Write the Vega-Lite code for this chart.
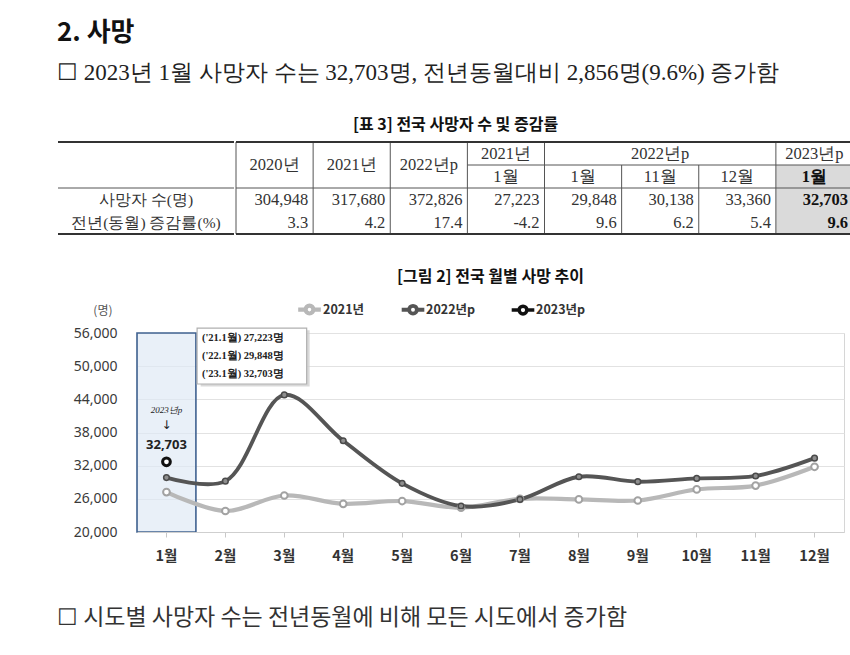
{
  "$schema": "https://vega.github.io/schema/vega-lite/v6.json",
  "padding": {"top": 20, "left": 57, "right": 0, "bottom": 40},
  "background": "white",
  "config": {
    "view": {"stroke": null},
    "font": "Noto Sans CJK KR",
    "concat": {"spacing": 0}
  },
  "title": {
    "text": "2. 사망",
    "subtitle": "☐ 2023년 1월 사망자 수는 32,703명, 전년동월대비 2,856명(9.6%) 증가함",
    "anchor": "start",
    "font": "Noto Sans CJK KR",
    "fontSize": 26,
    "fontWeight": "bold",
    "color": "#111111",
    "subtitleFont": "Liberation Serif",
    "subtitleFontSize": 23,
    "subtitleColor": "#222222",
    "subtitlePadding": 16,
    "offset": 32
  },
  "resolve": {"scale": {"color": "independent", "strokeWidth": "independent"}, "legend": {"color": "independent", "strokeWidth": "independent"}},
  "datasets": {
    "monthly": [
      {"month": "1월", "series": "2021년", "value": 27223},
      {"month": "2월", "series": "2021년", "value": 23800},
      {"month": "3월", "series": "2021년", "value": 26600},
      {"month": "4월", "series": "2021년", "value": 25100},
      {"month": "5월", "series": "2021년", "value": 25600},
      {"month": "6월", "series": "2021년", "value": 24400},
      {"month": "7월", "series": "2021년", "value": 26000},
      {"month": "8월", "series": "2021년", "value": 25900},
      {"month": "9월", "series": "2021년", "value": 25700},
      {"month": "10월", "series": "2021년", "value": 27700},
      {"month": "11월", "series": "2021년", "value": 28400},
      {"month": "12월", "series": "2021년", "value": 31800},
      {"month": "1월", "series": "2022년p", "value": 29848},
      {"month": "2월", "series": "2022년p", "value": 29200},
      {"month": "3월", "series": "2022년p", "value": 44800},
      {"month": "4월", "series": "2022년p", "value": 36500},
      {"month": "5월", "series": "2022년p", "value": 28800},
      {"month": "6월", "series": "2022년p", "value": 24700},
      {"month": "7월", "series": "2022년p", "value": 25900},
      {"month": "8월", "series": "2022년p", "value": 30000},
      {"month": "9월", "series": "2022년p", "value": 29100},
      {"month": "10월", "series": "2022년p", "value": 29700},
      {"month": "11월", "series": "2022년p", "value": 30138},
      {"month": "12월", "series": "2022년p", "value": 33360},
      {"month": "1월", "series": "2023년p", "value": 32703}
    ],
    "cells": [
      {"col": "c2020", "row": "h1", "kind": "span", "text": "2020년"},
      {"col": "c2021", "row": "h1", "kind": "span", "text": "2021년"},
      {"col": "c2022", "row": "h1", "kind": "span", "text": "2022년p"},
      {"col": "c21_1", "row": "h1", "kind": "head", "text": "2021년"},
      {"col": "c22_11", "row": "h1", "kind": "head", "text": "2022년p"},
      {"col": "c23_1", "row": "h1", "kind": "head", "text": "2023년p"},
      {"col": "c21_1", "row": "h2", "kind": "head", "text": "1월"},
      {"col": "c22_1", "row": "h2", "kind": "head", "text": "1월"},
      {"col": "c22_11", "row": "h2", "kind": "head", "text": "11월"},
      {"col": "c22_12", "row": "h2", "kind": "head", "text": "12월"},
      {"col": "c23_1", "row": "h2", "kind": "head", "text": "1월"},
      {"col": "label", "row": "r1", "kind": "label", "text": "사망자 수(명)"},
      {"col": "label", "row": "r2", "kind": "label", "text": "전년(동월) 증감률(%)"},
      {"col": "c2020", "row": "r1", "kind": "num", "text": "304,948"},
      {"col": "c2021", "row": "r1", "kind": "num", "text": "317,680"},
      {"col": "c2022", "row": "r1", "kind": "num", "text": "372,826"},
      {"col": "c21_1", "row": "r1", "kind": "num", "text": "27,223"},
      {"col": "c22_1", "row": "r1", "kind": "num", "text": "29,848"},
      {"col": "c22_11", "row": "r1", "kind": "num", "text": "30,138"},
      {"col": "c22_12", "row": "r1", "kind": "num", "text": "33,360"},
      {"col": "c23_1", "row": "r1", "kind": "num", "text": "32,703"},
      {"col": "c2020", "row": "r2", "kind": "num", "text": "3.3"},
      {"col": "c2021", "row": "r2", "kind": "num", "text": "4.2"},
      {"col": "c2022", "row": "r2", "kind": "num", "text": "17.4"},
      {"col": "c21_1", "row": "r2", "kind": "num", "text": "-4.2"},
      {"col": "c22_1", "row": "r2", "kind": "num", "text": "9.6"},
      {"col": "c22_11", "row": "r2", "kind": "num", "text": "6.2"},
      {"col": "c22_12", "row": "r2", "kind": "num", "text": "5.4"},
      {"col": "c23_1", "row": "r2", "kind": "num", "text": "9.6"}
    ],
    "vlines": [
      {"col": "c2020", "from": "h1", "to": "r2"},
      {"col": "c2021", "from": "h1", "to": "r2"},
      {"col": "c2022", "from": "h1", "to": "r2"},
      {"col": "c21_1", "from": "h1", "to": "r2"},
      {"col": "c22_1", "from": "h1", "to": "r2"},
      {"col": "c22_11", "from": "h2", "to": "r2"},
      {"col": "c22_12", "from": "h2", "to": "r2"},
      {"col": "c23_1", "from": "h1", "to": "r2"}
    ],
    "hlines": [
      {"row": "h1", "edge": "top", "from": "c2020", "to": "c23_1", "part": "full"},
      {"row": "h2", "edge": "top", "from": "c21_1", "to": "c23_1", "part": "partial"},
      {"row": "r1", "edge": "top", "from": "c2020", "to": "c23_1", "part": "full"},
      {"row": "r2", "edge": "bottom", "from": "c2020", "to": "c23_1", "part": "full"}
    ],
    "spacer": []
  },
  "vconcat": [
    {
      "title": {
        "text": "☐ 시도별 사망자 수는 전년동월에 비해 모든 시도에서 증가함",
        "orient": "bottom",
        "anchor": "start",
        "offset": 44,
        "font": "Noto Sans CJK KR",
        "fontSize": 23,
        "fontWeight": "normal",
        "color": "#333333"
      },
      "spacing": 33,
      "resolve": {"scale": {"color": "independent", "strokeWidth": "independent"}, "legend": {"color": "independent", "strokeWidth": "independent"}},
      "vconcat": [
        {
          "title": {
            "text": "[표 3] 전국 사망자 수 및 증감률",
            "anchor": "middle",
            "offset": 8,
            "font": "Noto Sans CJK KR",
            "fontSize": 16,
            "fontWeight": "bold",
            "color": "#111111"
          },
          "spacing": 0,
          "hconcat": [
            {
              "width": 176,
              "height": 92,
              "layer": [
                {
                  "data": {"name": "hlines"},
                  "transform": [{"filter": "datum.row === 'r1'"}],
                  "mark": {"type": "rule", "color": "#555555", "strokeWidth": 1},
                  "encoding": {
                    "y": {"field": "row", "type": "nominal", "bandPosition": 0, "scale": {"domain": ["h1", "h2", "r1", "r2"], "paddingInner": 0, "paddingOuter": 0}, "axis": null}
                  }
                },
                {
                  "data": {"name": "hlines"},
                  "transform": [{"filter": "datum.row === 'h1'"}],
                  "mark": {"type": "rule", "color": "#333333", "strokeWidth": 2},
                  "encoding": {
                    "y": {"field": "row", "type": "nominal", "bandPosition": 0, "scale": {"domain": ["h1", "h2", "r1", "r2"], "paddingInner": 0, "paddingOuter": 0}, "axis": null}
                  }
                },
                {
                  "data": {"name": "hlines"},
                  "transform": [{"filter": "datum.edge === 'bottom'"}],
                  "mark": {"type": "rule", "color": "#333333", "strokeWidth": 2},
                  "encoding": {
                    "y": {"field": "row", "type": "nominal", "bandPosition": 1, "scale": {"domain": ["h1", "h2", "r1", "r2"], "paddingInner": 0, "paddingOuter": 0}, "axis": null}
                  }
                },
                {
                  "data": {"name": "cells"},
                  "transform": [{"filter": "datum.kind === 'label'"}],
                  "mark": {"type": "text", "font": "Liberation Serif", "fontSize": 15.5, "color": "#333333", "baseline": "middle", "align": "center"},
                  "encoding": {
                    "y": {"field": "row", "type": "nominal", "scale": {"domain": ["h1", "h2", "r1", "r2"], "paddingInner": 0, "paddingOuter": 0}, "axis": null},
                    "text": {"field": "text", "type": "nominal"}
                  }
                }
              ]
            },
            {
              "width": 617,
              "height": 92,
              "encoding": {
                "x": {"field": "col", "type": "nominal", "scale": {"type": "band", "domain": ["c2020", "c2021", "c2022", "c21_1", "c22_1", "c22_11", "c22_12", "c23_1"], "paddingInner": 0, "paddingOuter": 0}, "axis": null},
                "y": {"field": "row", "type": "nominal", "scale": {"domain": ["h1", "h2", "r1", "r2"], "paddingInner": 0, "paddingOuter": 0}, "axis": null}
              },
              "layer": [
                {
                  "data": {"name": "cells"},
                  "transform": [{"filter": "datum.col === 'c23_1' && datum.row !== 'h1'"}],
                  "mark": {"type": "rect", "fill": "#dadada"}
                },
                {
                  "data": {"name": "vlines"},
                  "mark": {"type": "rule", "color": "#555555", "strokeWidth": 1},
                  "encoding": {
                    "x": {"field": "col", "type": "nominal", "bandPosition": 0},
                    "y": {"field": "from", "type": "nominal", "bandPosition": 0},
                    "y2": {"field": "to", "bandPosition": 1}
                  }
                },
                {
                  "data": {"name": "hlines"},
                  "transform": [{"filter": "datum.row === 'r1' || datum.row === 'h2'"}],
                  "mark": {"type": "rule", "color": "#555555", "strokeWidth": 1},
                  "encoding": {
                    "x": {"field": "from", "type": "nominal", "bandPosition": 0},
                    "x2": {"field": "to", "bandPosition": 1},
                    "y": {"field": "row", "type": "nominal", "bandPosition": 0}
                  }
                },
                {
                  "data": {"name": "hlines"},
                  "transform": [{"filter": "datum.row === 'h1'"}],
                  "mark": {"type": "rule", "color": "#333333", "strokeWidth": 2},
                  "encoding": {
                    "x": {"field": "from", "type": "nominal", "bandPosition": 0},
                    "x2": {"field": "to", "bandPosition": 1},
                    "y": {"field": "row", "type": "nominal", "bandPosition": 0}
                  }
                },
                {
                  "data": {"name": "hlines"},
                  "transform": [{"filter": "datum.edge === 'bottom'"}],
                  "mark": {"type": "rule", "color": "#333333", "strokeWidth": 2},
                  "encoding": {
                    "x": {"field": "from", "type": "nominal", "bandPosition": 0},
                    "x2": {"field": "to", "bandPosition": 1},
                    "y": {"field": "row", "type": "nominal", "bandPosition": 1}
                  }
                },
                {
                  "data": {"name": "cells"},
                  "transform": [{"filter": "datum.kind === 'span'"}],
                  "mark": {"type": "text", "font": "Liberation Serif", "fontSize": 16.5, "color": "#333333", "baseline": "middle", "align": "center"},
                  "encoding": {
                    "y": {"field": "row", "type": "nominal", "bandPosition": 1},
                    "text": {"field": "text", "type": "nominal"}
                  }
                },
                {
                  "data": {"name": "cells"},
                  "transform": [{"filter": "datum.kind === 'head' && !(datum.col === 'c23_1' && datum.row === 'h2')"}],
                  "mark": {"type": "text", "font": "Liberation Serif", "fontSize": 16.5, "color": "#333333", "baseline": "middle", "align": "center"},
                  "encoding": {
                    "text": {"field": "text", "type": "nominal"}
                  }
                },
                {
                  "data": {"name": "cells"},
                  "transform": [{"filter": "datum.kind === 'head' && datum.col === 'c23_1' && datum.row === 'h2'"}],
                  "mark": {"type": "text", "font": "Liberation Serif", "fontSize": 16.5, "fontWeight": "bold", "color": "#111111", "baseline": "middle", "align": "center"},
                  "encoding": {
                    "text": {"field": "text", "type": "nominal"}
                  }
                },
                {
                  "data": {"name": "cells"},
                  "transform": [{"filter": "datum.kind === 'num' && datum.col !== 'c23_1'"}],
                  "mark": {"type": "text", "font": "Liberation Serif", "fontSize": 16.5, "color": "#333333", "baseline": "middle", "align": "right", "dx": -5},
                  "encoding": {
                    "x": {"field": "col", "type": "nominal", "bandPosition": 1},
                    "text": {"field": "text", "type": "nominal"}
                  }
                },
                {
                  "data": {"name": "cells"},
                  "transform": [{"filter": "datum.kind === 'num' && datum.col === 'c23_1'"}],
                  "mark": {"type": "text", "font": "Liberation Serif", "fontSize": 16.5, "fontWeight": "bold", "color": "#111111", "baseline": "middle", "align": "right", "dx": -5},
                  "encoding": {
                    "x": {"field": "col", "type": "nominal", "bandPosition": 1},
                    "text": {"field": "text", "type": "nominal"}
                  }
                }
              ]
            }
          ]
        },
        {
          "spacing": 0,
          "resolve": {"scale": {"color": "independent", "strokeWidth": "independent"}, "legend": {"color": "independent", "strokeWidth": "independent"}},
          "hconcat": [
            {
              "width": 1,
              "height": 1,
              "data": {"name": "spacer"},
              "mark": {"type": "point", "opacity": 0},
              "encoding": {}
            },
            {
              "width": 707,
              "height": 199,
              "title": {
                "text": "[그림 2] 전국 월별 사망 추이",
                "anchor": "middle",
                "offset": 15,
                "font": "Noto Sans CJK KR",
                "fontSize": 16,
                "fontWeight": "bold",
                "color": "#111111"
              },
              "view": {"stroke": "#d6d6d6"},
              "data": {"name": "monthly"},
              "encoding": {
                "x": {
                  "field": "month",
                  "type": "nominal",
                  "scale": {"type": "band", "domain": ["1월", "2월", "3월", "4월", "5월", "6월", "7월", "8월", "9월", "10월", "11월", "12월"], "paddingInner": 0, "paddingOuter": 0},
                  "axis": {
                    "title": null,
                    "labelAngle": 0,
                    "labelFont": "Noto Sans CJK KR",
                    "labelFontSize": 14.5,
                    "labelFontWeight": "bold",
                    "labelColor": "#333333",
                    "labelPadding": 12,
                    "tickSize": 5,
                    "tickColor": "#c8c8c8",
                    "domainColor": "#cfcfcf",
                    "grid": false,
                    "bandPosition": 0.5
                  }
                },
                "y": {
                  "field": "value",
                  "type": "quantitative",
                  "scale": {"domain": [20000, 56000], "nice": false, "zero": false},
                  "axis": {
                    "values": [20000, 26000, 32000, 38000, 44000, 50000, 56000],
                    "format": ",d",
                    "labelFont": "Noto Sans",
                    "labelFontSize": 14,
                    "labelColor": "#3a3a3a",
                    "ticks": false,
                    "domain": false,
                    "labelPadding": 20,
                    "minExtent": 77,
                    "gridColor": "#e2e2e2",
                    "title": "(명)",
                    "titleAngle": 0,
                    "titleAlign": "right",
                    "titleBaseline": "middle",
                    "titleX": -25,
                    "titleY": -23,
                    "titleFont": "Noto Sans CJK KR",
                    "titleFontSize": 12,
                    "titleFontWeight": "normal",
                    "titleColor": "#555555"
                  }
                }
              },
              "layer": [
                {
                  "transform": [{"filter": "datum.series === '2023년p'"}],
                  "mark": {"type": "rect", "fill": "#dfe9f5", "fillOpacity": 0.7, "stroke": "#3f6190", "strokeWidth": 1.6},
                  "encoding": {
                    "y": {"datum": 56000},
                    "y2": {"datum": 20000}
                  }
                },
                {
                  "transform": [{"filter": "datum.series === '2023년p'"}],
                  "mark": {"type": "rect", "fill": "#cfcfcf", "opacity": 0.8},
                  "encoding": {
                    "x": {"datum": "2월", "bandPosition": 0.08},
                    "x2": {"datum": "3월", "bandPosition": 0.93},
                    "y": {"datum": 56500},
                    "y2": {"datum": 46300}
                  }
                },
                {
                  "transform": [{"filter": "datum.series === '2023년p'"}],
                  "mark": {"type": "rect", "fill": "white", "stroke": "#b0b0b0", "strokeWidth": 1.2},
                  "encoding": {
                    "x": {"datum": "2월", "bandPosition": 0.02},
                    "x2": {"datum": "3월", "bandPosition": 0.88},
                    "y": {"datum": 56890},
                    "y2": {"datum": 46770}
                  }
                },
                {
                  "transform": [{"filter": "datum.series === '2023년p'"}],
                  "mark": {
                    "type": "text",
                    "text": ["('21.1월) 27,223명", "('22.1월) 29,848명", "('23.1월) 32,703명"],
                    "lineHeight": 18,
                    "font": "Liberation Serif",
                    "fontSize": 10.5,
                    "fontWeight": "bold",
                    "color": "#222222",
                    "align": "left",
                    "baseline": "middle",
                    "dx": 6
                  },
                  "encoding": {
                    "x": {"datum": "2월", "bandPosition": 0},
                    "y": {"datum": 55100}
                  }
                },
                {
                  "mark": {"type": "line", "interpolate": "catmull-rom"},
                  "encoding": {
                    "color": {
                      "field": "series",
                      "type": "nominal",
                      "scale": {"domain": ["2021년", "2022년p", "2023년p"], "range": ["#b8b8b8", "#555555", "#111111"]},
                      "legend": {
                        "title": null,
                        "orient": "none",
                        "legendX": 163,
                        "legendY": -33,
                        "direction": "horizontal",
                        "symbolType": "M -1.6 0 L -0.55 0 M 0.55 0 L 1.6 0 M -0.55 0 A 0.55 0.55 0 1 1 0.55 0 A 0.55 0.55 0 1 1 -0.55 0",
                        "symbolSize": 200,
                        "symbolStrokeWidth": 2.5,
                        "labelFont": "Noto Sans CJK KR",
                        "labelFontSize": 12.5,
                        "labelFontWeight": "bold",
                        "labelColor": "#333333",
                        "labelOffset": 4,
                        "columnPadding": 28
                      }
                    },
                    "strokeWidth": {
                      "field": "series",
                      "type": "nominal",
                      "scale": {"domain": ["2021년", "2022년p", "2023년p"], "range": [4.2, 3.5, 2.5]},
                      "legend": null
                    }
                  }
                },
                {
                  "transform": [{"filter": "datum.series === '2021년'"}],
                  "mark": {"type": "point", "shape": "circle", "size": 45, "filled": true, "fill": "white", "stroke": "#a2a2a2", "strokeWidth": 2, "opacity": 1}
                },
                {
                  "transform": [{"filter": "datum.series === '2022년p'"}],
                  "mark": {"type": "point", "shape": "circle", "size": 32, "filled": true, "fill": "#8e8e8e", "stroke": "#4a4a4a", "strokeWidth": 1.5, "opacity": 1}
                },
                {
                  "transform": [{"filter": "datum.series === '2023년p'"}],
                  "mark": {"type": "point", "shape": "circle", "size": 60, "filled": true, "fill": "white", "stroke": "#111111", "strokeWidth": 3, "opacity": 1}
                },
                {
                  "transform": [{"filter": "datum.series === '2023년p'"}],
                  "mark": {"type": "text", "font": "Noto Sans", "fontSize": 13, "fontWeight": "bold", "color": "#222222", "dy": -17},
                  "encoding": {"text": {"field": "value", "type": "quantitative", "format": ",d"}}
                },
                {
                  "transform": [{"filter": "datum.series === '2023년p'"}],
                  "mark": {"type": "text", "text": "↓", "font": "DejaVu Sans", "fontSize": 12, "color": "#222222", "dy": -37}
                },
                {
                  "transform": [{"filter": "datum.series === '2023년p'"}],
                  "mark": {"type": "text", "font": "Liberation Serif", "fontSize": 9, "fontStyle": "italic", "color": "#222222", "dy": -52},
                  "encoding": {"text": {"field": "series", "type": "nominal"}}
                }
              ]
            }
          ]
        }
      ]
    }
  ]
}
